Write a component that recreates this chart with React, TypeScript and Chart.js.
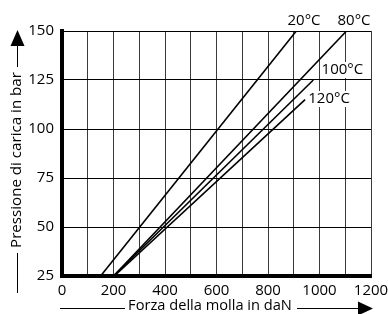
import React, { useEffect, useRef } from "react";
import { Chart, registerables } from "chart.js";

Chart.register(...registerables);

// Data
const seriesNames = ["20°C", "80°C", "100°C", "120°C"];
const force20 = [150, 910];
const pressure20 = [25, 150];
const force80 = [200, 1105];
const pressure80 = [25, 150];
const force100 = [200, 976];
const pressure100 = [25, 125];
const force120 = [203, 944];
const pressure120 = [25, 115];

// Label anchors (data coordinates)
const labelForce = [940, 1134, 1089, 1037];
const labelPressure = [155.1, 155.1, 130.1, 115.3];

const xTitle = "Forza della molla in daN";
const yTitle = "Pressione di carica in bar";

const FONT = "'Open Sans', sans-serif";
const FS = 15;

const toPoints = (xs: number[], ys: number[]) => xs.map((x, i) => ({ x, y: ys[i] }));

const fitFont = (ctx: CanvasRenderingContext2D, text: string, target: number) => {
  ctx.font = `${FS}px ${FONT}`;
  const w = ctx.measureText(text).width;
  const size = Math.min(17, Math.max(12, (FS * target) / w));
  ctx.font = `${size}px ${FONT}`;
};

const decorPlugin = {
  id: "decor",
  afterDraw(chart: any) {
    const ctx = chart.ctx;
    const xs = chart.scales.x;
    const ys = chart.scales.y;
    ctx.save();
    ctx.font = `${FS}px ${FONT}`;
    ctx.textAlign = "center";
    ctx.textBaseline = "middle";
    // series labels with white background
    seriesNames.forEach((name, i) => {
      const px = xs.getPixelForValue(labelForce[i]);
      const py = ys.getPixelForValue(labelPressure[i]);
      const w = ctx.measureText(name).width;
      ctx.fillStyle = "#fff";
      ctx.fillRect(px - w / 2 - 1, py - 8, w + 2, 16);
      ctx.fillStyle = "#000";
      ctx.fillText(name, px, py);
    });

    ctx.strokeStyle = "#000";
    ctx.fillStyle = "#000";
    ctx.lineWidth = 1;

    // x title with line and arrow
    fitFont(ctx, xTitle, 164);
    const xy = 306;
    ctx.fillText(xTitle, 210, xy);
    const ly = xy + 2.5;
    ctx.beginPath();
    ctx.moveTo(60, ly);
    ctx.lineTo(125, ly);
    ctx.moveTo(297, ly);
    ctx.lineTo(360, ly);
    ctx.stroke();
    ctx.beginPath();
    ctx.moveTo(358, ly - 7);
    ctx.lineTo(373, ly);
    ctx.lineTo(358, ly + 7);
    ctx.closePath();
    ctx.fill();

    // y title rotated
    fitFont(ctx, yTitle, 176);
    const yx = 17;
    const yc = 160;
    ctx.save();
    ctx.translate(yx, yc);
    ctx.rotate(-Math.PI / 2);
    ctx.fillText(yTitle, 0, 0);
    ctx.restore();
    const lx = yx + 0.5;
    ctx.beginPath();
    ctx.moveTo(lx, 253);
    ctx.lineTo(lx, 293);
    ctx.moveTo(lx, 67);
    ctx.lineTo(lx, 44);
    ctx.stroke();
    ctx.beginPath();
    ctx.moveTo(lx - 7, 46);
    ctx.lineTo(lx, 30);
    ctx.lineTo(lx + 7, 46);
    ctx.closePath();
    ctx.fill();
    ctx.restore();
  },
};

export default function App() {
  const ref = useRef<HTMLCanvasElement | null>(null);
  useEffect(() => {
    if (!ref.current) return;
    const mk = (xs: number[], ys: number[]) => ({
      data: toPoints(xs, ys),
      showLine: true,
      borderColor: "#000",
      borderWidth: 1.6,
      pointRadius: 0,
      fill: false,
    });
    const chart = new Chart(ref.current, {
      type: "scatter",
      data: {
        datasets: [
          { label: seriesNames[0], ...mk(force20, pressure20) },
          { label: seriesNames[1], ...mk(force80, pressure80) },
          { label: seriesNames[2], ...mk(force100, pressure100) },
          { label: seriesNames[3], ...mk(force120, pressure120) },
        ],
      },
      options: {
        animation: false,
        responsive: false,
        layout: { padding: { left: 0, right: 17, top: 31, bottom: 0 } },
        plugins: { legend: { display: false }, tooltip: { enabled: false } },
        scales: {
          x: {
            type: "linear",
            min: 0,
            max: 1200,
            afterFit: (s: any) => {
              s.height = 38;
              s.paddingLeft = 0;
              s.paddingRight = 0;
            },
            ticks: {
              stepSize: 100,
              autoSkip: false,
              maxRotation: 0,
              padding: 6,
              color: "#000",
              font: { family: FONT, size: FS },
              callback: (v: any) => (Number(v) % 200 === 0 ? String(v) : ""),
            },
            grid: { color: "#3a3a3a", lineWidth: 1, drawTicks: false },
            border: { display: true, color: "#000", width: 4 },
          },
          y: {
            type: "linear",
            min: 25,
            max: 150,
            afterFit: (s: any) => {
              s.width = 62;
              s.paddingTop = 0;
              s.paddingBottom = 0;
            },
            ticks: {
              stepSize: 25,
              padding: 8,
              color: "#000",
              font: { family: FONT, size: FS },
            },
            grid: { color: "#000", lineWidth: 1, drawTicks: false },
            border: { display: true, color: "#000", width: 4 },
          },
        },
      },
      plugins: [decorPlugin],
    });
    return () => chart.destroy();
  }, []);
  return (
    <div style={{ position: "fixed", left: 0, top: 0, width: 388, height: 314, background: "#fff" }}>
      <canvas ref={ref} width={388} height={314} />
    </div>
  );
}
